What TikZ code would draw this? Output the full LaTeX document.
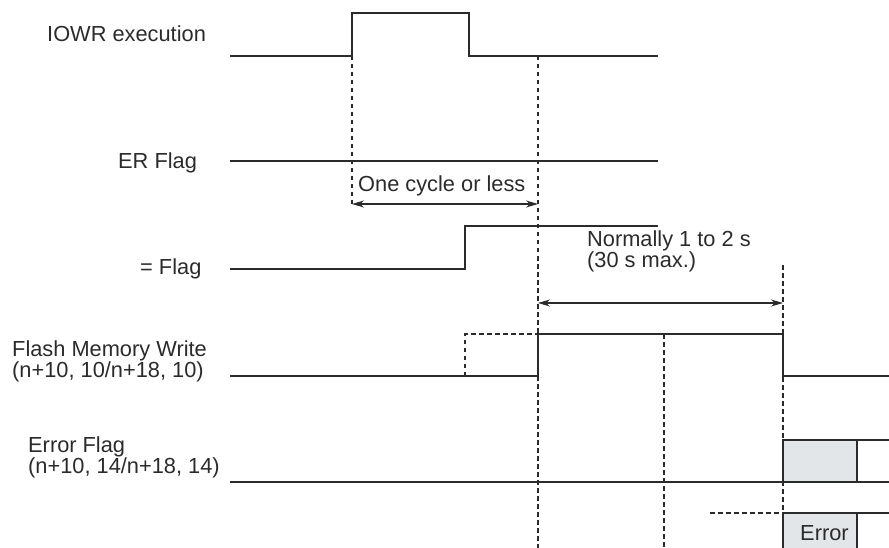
\documentclass[tikz,border=0pt]{standalone}
\usepackage{fontspec}
\setmainfont{Liberation Sans}
\usetikzlibrary{arrows.meta}
\definecolor{ink}{HTML}{2B2B2B}
\definecolor{boxgray}{HTML}{E3E6E9}
\begin{document}
\begin{tikzpicture}[x=1pt,y=-1pt,
  sig/.style={draw=ink,line width=1.4pt,line join=miter},
  dsh/.style={draw=ink,line width=1.2pt,dash pattern=on 4.5pt off 3.5pt},
  dim/.style={draw=ink,line width=1.2pt,{Stealth[length=12pt,width=7pt]}-{Stealth[length=12pt,width=7pt]}},
  lbl/.style={anchor=base west,inner sep=0pt,text=ink,font=\fontsize{21.8}{21}\selectfont,align=left}]
\useasboundingbox (0,0) rectangle (889,548);
% gray boxes
\fill[boxgray] (783,440) rectangle (857,482);
\fill[boxgray] (783,513) rectangle (857,548);
% dashed guides
\draw[dsh] (352,56) -- (352,205);
\draw[dsh] (538,56) -- (538,548);
\draw[dsh] (465,376) -- (465,334) -- (538,334);
\draw[dsh] (664,334) -- (664,548);
\draw[dsh] (783,265) -- (783,513);
\draw[dsh] (710,513) -- (783,513);
% IOWR execution
\draw[sig] (230,56) -- (352,56) -- (352,13) -- (469,13) -- (469,56) -- (658,56);
% ER flag
\draw[sig] (230,161) -- (658,161);
% = flag
\draw[sig] (230,269) -- (465,269) -- (465,226) -- (658,226);
% Flash memory write
\draw[sig] (230,376) -- (538,376) -- (538,334) -- (783,334) -- (783,376) -- (889,376);
% Error flag
\draw[sig] (230,482) -- (889,482);
\draw[sig] (783,482) -- (783,440) -- (889,440);
\draw[sig] (857,440) -- (857,482);
% Error box bottom
\draw[sig] (783,548) -- (783,513) -- (889,513);
\draw[sig] (857,513) -- (857,548);
% dimension arrows
\draw[dim] (352,204) -- (538,204);
\draw[dim] (538,303) -- (783,303);
% labels
\node[lbl] (l1) at (47,42) {IOWR execution};
\node[lbl] (l2) at (118,169) {ER Flag};
\node[lbl] (l3) at (140,275) {= Flag};
\node[lbl] (l4) at (12,377) {Flash Memory Write\\(n+10, 10/n+18, 10)};
\node[lbl] (l5) at (28,473) {Error Flag\\(n+10, 14/n+18, 14)};
\node[lbl] (l6) at (358,192) {One cycle or less};
\node[lbl] (l7) at (587,268) {Normally 1 to 2 s\\(30 s max.)};
\node[lbl] (l8) at (800,540) {Error};
\end{tikzpicture}
\end{document}
